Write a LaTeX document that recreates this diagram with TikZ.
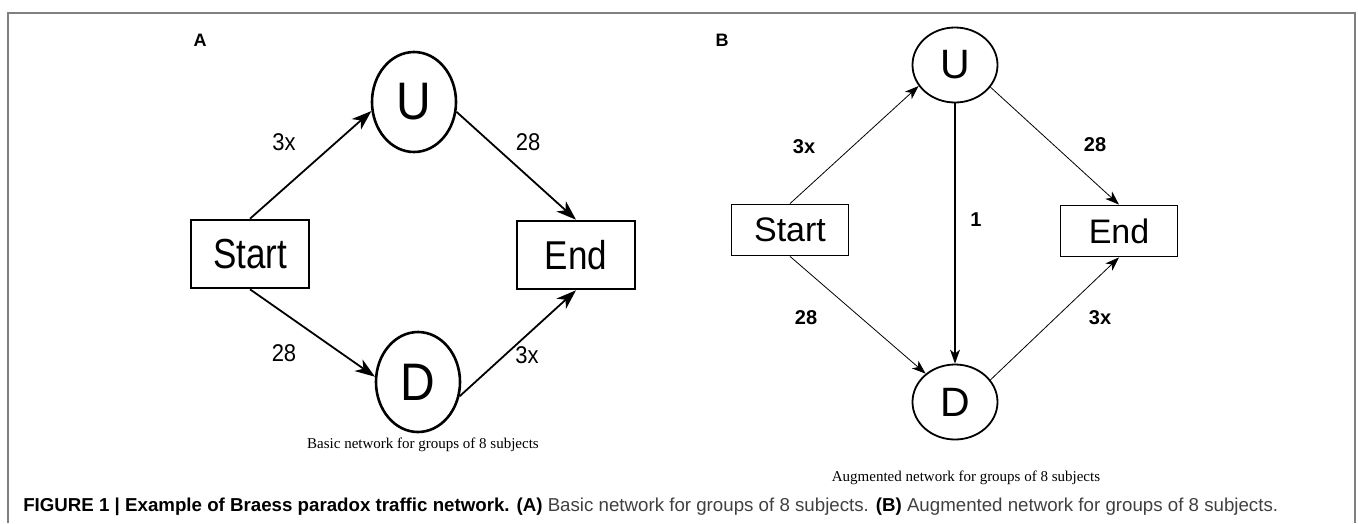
\documentclass[tikz,border=0pt]{standalone}
\usepackage{fontspec}
\setmainfont{Liberation Sans}
\newfontfamily\subcapfont{Liberation Serif}
\usepackage{graphicx}
\usetikzlibrary{arrows,arrows.meta,shapes.geometric}

% stretched lettering as in the scanned figure
\newcommand{\tallt}[2]{\scalebox{1}[#1]{#2}}

\begin{document}
\begin{tikzpicture}[x=1pt,y=-1pt,semithick,
  boxA/.style={draw,line width=2.6pt,minimum width=118pt,minimum height=68pt,inner sep=0pt,font=\fontsize{35}{37}\selectfont},
  stateA/.style={draw,ellipse,line width=2.6pt,minimum width=84pt,minimum height=100pt,inner sep=0pt,font=\fontsize{48}{50}\selectfont},
  boxB/.style={draw,line width=1.8pt,minimum width=117pt,minimum height=51pt,inner sep=0pt,font=\fontsize{34}{36}\selectfont},
  stateB/.style={draw,ellipse,line width=1.8pt,minimum width=85pt,minimum height=75pt,inner sep=0pt,font=\fontsize{41}{43}\selectfont},
  costA/.style={font=\fontsize{22}{24}\selectfont,inner sep=0pt},
  costB/.style={font=\fontsize{20}{22}\selectfont\bfseries,inner sep=0pt},
  panel/.style={font=\fontsize{18}{20}\selectfont\bfseries,inner sep=0pt},
  subcap/.style={font=\subcapfont\fontsize{15}{17}\selectfont,inner sep=0pt},
  roadA/.style={->,line width=1.8pt,>={Stealth[length=20pt,width=14pt,inset=6pt]}},
  roadB/.style={->,line width=0.8pt,>={Stealth[length=14pt,width=10pt,inset=4pt]}}]
\useasboundingbox (0,0) rectangle (1358,523);
\draw[gray,line width=1.5pt] (8,523) -- (8,13) -- (1355,13) -- (1355,523);

% panel A
\node[panel] (lA) at (200,40) {A};
\node[stateA] (UA) at (414,102) {\tallt{1.1}{U}};
\node[stateA] (DA) at (418,382) {\tallt{1.1}{D}};
\node[boxA] (SA) at (250,254) {\tallt{1.2}{Start}};
\node[boxA] (EA) at (576,255) {\tallt{1.15}{End}};

\path (SA.north) edge[roadA] (UA.192)
      (UA.-13) edge[roadA] (EA.north)
      (SA.south) edge[roadA] (DA.173)
      (DA.-19) edge[roadA] (EA.south);

\node[costA] (cA1) at (284,142) {\tallt{1.1}{3x}};
\node[costA] (cA2) at (528,142) {\tallt{1.1}{28}};
\node[costA] (cA3) at (284,353) {\tallt{1.1}{28}};
\node[costA] (cA4) at (527,355) {\tallt{1.1}{3x}};
\node[subcap] (capA) at (423,445) {Basic network for groups of 8 subjects};

% panel B
\node[panel] (lB) at (722,40) {B};
\node[stateB] (UB) at (955,65) {U};
\node[stateB] (DB) at (955,402) {D};
\node[boxB] (SB) at (790,230) {Start};
\node[boxB] (EB) at (1119,231) {End};

\path (SB.north) edge[roadB] (UB.210)
      (UB.-32) edge[roadB] (EB.north)
      (UB.south) edge[roadB,line width=1.1pt] (DB.north)
      (SB.south) edge[roadB] (DB.136)
      (DB.32) edge[roadB] (EB.south);

\node[costB] (cB1) at (804,147) {3x};
\node[costB] (cB2) at (1095,145) {28};
\node[costB] (cB3) at (976,220) {1};
\node[costB] (cB4) at (806,318) {28};
\node[costB] (cB5) at (1100,318) {3x};
\node[subcap] (capB) at (966,478) {Augmented network for groups of 8 subjects};

% figure caption
\node[anchor=west,inner sep=0pt,font=\fontsize{18.7}{20}\selectfont] (fig) at (23,507)
  {\textbf{FIGURE 1 | Example of Braess paradox traffic network. (A)} \textcolor{black!75}{Basic network for groups of 8 subjects.} \textbf{(B)} \textcolor{black!75}{Augmented network for groups of 8 subjects.}};
\end{tikzpicture}
\end{document}
